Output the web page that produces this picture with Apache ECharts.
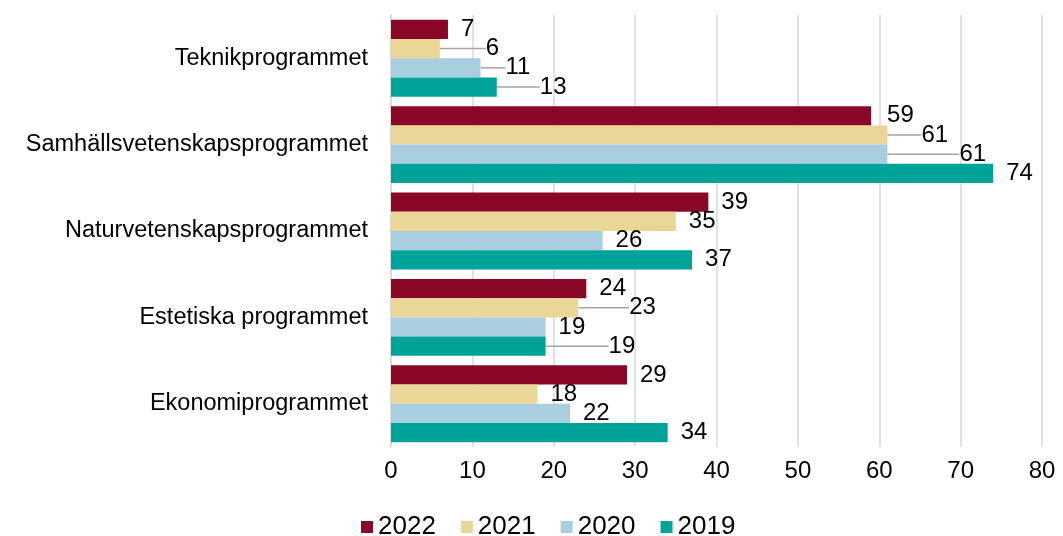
<!DOCTYPE html>
<html>
<head>
<meta charset="utf-8">
<script src="https://cdn.jsdelivr.net/npm/echarts@6/dist/echarts.min.js"></script>
<style>
  html, body { margin: 0; padding: 0; background: #fff; }
  #chart { width: 1063px; height: 536px; }
</style>
</head>
<body>
<div id="chart"></div>
<script>
// program names, top to bottom
var categories = ['Teknikprogrammet', 'Samhällsvetenskapsprogrammet', 'Naturvetenskapsprogrammet', 'Estetiska programmet', 'Ekonomiprogrammet'];
var years = ['2022', '2021', '2020', '2019'];

var values2022 = [7, 59, 39, 24, 29];
var values2021 = [6, 61, 35, 23, 18];
var values2020 = [11, 61, 26, 19, 22];
var values2019 = [13, 74, 37, 19, 34];

var xTicks = [0, 10, 20, 30, 40, 50, 60, 70, 80];

var colors = ['#8A0727', '#EAD696', '#A9CEE0', '#00A39A'];

// label shifts (px) so labels sit like the original; shifted ones get a leader line
var labelShift = [
    [0, 3, 0, 0, 0],
    [33, 21, 0, 38, 0],
    [12, 59, 0, 0, 0],
    [30, 0, 0, 50, 0]
];

var seriesValues = [values2022, values2021, values2020, values2019];

var series = years.map(function(y, i) {
    return {
        name: y,
        type: 'bar',
        data: seriesValues[i].map(function(v, j) {
            return { value: v, labelLine: { show: labelShift[i][j] > 5 } };
        }),
        barGap: '0%',
        barCategoryGap: '11%',
        itemStyle: { color: colors[i] },
        label: {
            show: true,
            position: 'right',
            distance: 7,
            padding: [0, 0, 0, 6],
            color: '#000',
            fontSize: 24,
            fontFamily: 'Liberation Sans'
        },
        labelLine: {
            lineStyle: { color: '#A6A6A6', width: 1.5 }
        },
        labelLayout: function(p) {
            return { dx: labelShift[p.seriesIndex][p.dataIndex] };
        }
    };
});

var chart = echarts.init(document.getElementById('chart'));
chart.setOption({
    animation: false,
    textStyle: { fontFamily: 'Liberation Sans' },
    legend: {
        data: years,
        top: 509,
        left: 356,
        itemWidth: 12,
        itemHeight: 12,
        itemGap: 25,
        icon: 'rect',
        textStyle: { fontSize: 26, color: '#000' }
    },
    grid: { left: 391, right: 21, top: 15, bottom: 89 },
    xAxis: {
        type: 'value',
        min: xTicks[0],
        max: xTicks[xTicks.length - 1],
        interval: 10,
        axisLine: { show: false },
        axisTick: { show: false },
        axisLabel: { fontSize: 24, color: '#000', margin: 12 },
        splitLine: { lineStyle: { color: '#D9D9D9', width: 1.5 } }
    },
    yAxis: {
        type: 'category',
        data: categories,
        inverse: true,
        axisLine: { show: true, lineStyle: { color: '#D9D9D9', width: 1.5 } },
        axisTick: { show: false },
        axisLabel: { fontSize: 23.5, color: '#000', margin: 23 }
    },
    series: series
});
</script>
</body>
</html>
